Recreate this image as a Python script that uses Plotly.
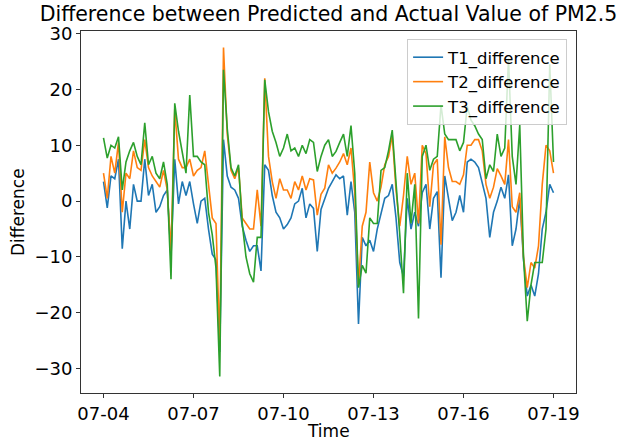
import pandas as pd
import plotly.graph_objects as go

# 3-hourly samples, starting 07-04 00:00
start = "2023-07-04 00:00"
step = "3h"

t1_difference = [
    3.5, -1.2, 4.5, 4, 7.5, -8.5, 0, -5, 3, 0, 0, 7.5, 1, 3, -2, -1, 1, 2,
    -10, 7.5, -0.5, 3.5, 1, 3.5, -0.5, -4, 0, 0.5, -5, -9.5, -10.5, -27, 11, 4.5, 2.5, 2,
    0.5, -4.5, -7, -9, -8, -8, -12.5, 6.5, 5.5, 1, -2, -3, -5, -4.2, -3, -0.5, 0, 2.3, -3,
    -0.5, -1.3, -9, -1.5, 0.5, 2.3, 3.5, 4.7, 4, 4.5, -2.5, 3.5, -2,
    -22,
    -6.5, -8, -7, -9, -5, -2, 0.5, 1, 3, -3, -11, -13.5, 0.5, -5, -2,
    -4.5,
    1.5, 3, -5, 0.5, 1.7,
    -13.7, 4.5, 0.5, -3.5, -2, 1, -2, 7, 7.5, 7, 6, 3.5, 0.5, -6.5, -2, 0, 2.5, 0.5,
    4.7, -8, -5, 0.5, -10.5, -17, -15, -17, -13, -5, -2, 3, 1.5,
]
t2_difference = [
    5, 0.5, 8, 5, 10.5, -2, 5, 4, 9, 6, 5.5, 11, 6, 4.5, 3.5, 2.5, 5.5, 2,
    -9, 16.5, 7.5, 6, 6, 7.5, 4.5, 5.5, 6, 9, 3, -3, -4, -26, 27.5, 12, 5.5, 4,
    6, -3, -4, -5, -5, 2, -4.5, 22, 8, 3.5, 0.5, 4, 2, 2, 0.5, 3.5, 2, 4.5, 2,
    4, 3.8, -2.5, 1.2, 2.3, 6.5, 5, 5.9, 7, 8.5, 6.5, 9.5, 1.5,
    -15,
    -4.5, -2, 7, 1.5, 0, 2.5, 6.5, 8, 11.8, 2, -4.5, 1, 8, 3, 5,
    -4,
    10, 8.5, -1, 6.5, 7.5,
    -7.8, 11.5, 6, 3.5, 3.5, 3, 4.7, 10, 10, 11, 11, 9, 3, 0.5, 2.5, 5.8, 4.5, 3,
    11, -1, -2, 1.5, -10, -15.5, -11, -12, -8, 3, 10, 9, 5,
]
t3_difference = [
    11.3, 7.7, 10, 9.5, 11.5, 2, 7, 9, 10.5, 8, 6.5, 14, 6.5, 8, 5, 4, 7, 3,
    -14, 17.5, 12.5, 9, 5, 19, 8, 8, 7, 6.5, -2, -6, -12, -31.4, 23.5, 13, 6, 4.5,
    6.5, -4, -10, -13, -14.5, -6.5, -6.5, 21.7, 16, 12.5, 10.5, 8, 9.5, 12, 9, 9.5, 8, 10, 8.5,
    11, 10.5, 5.3, 8, 10, 11, 8, 8.9, 10.5, 12, 8, 13.5, 5,
    -15.5,
    -11.5, -12.9, -3, -4, -4, 5.5, 6, 9, 12.7, 4, -6, -16.5, 5, -4, 3,
    -21,
    8, 10, 5.5, 7.5, 8,
    17.2, 12, 11, 11, 11, 9, 10.5, 17, 14.5, 13.5, 12, 11, 4, 6.5, 5.3, 12, 8, 9.5,
    25.5, 8, 3, 13.6, -10, -21.5, -15, -11, -11, -11, -5, 24.5, 7,
]
tick_dates = ["2023-07-04", "2023-07-07", "2023-07-10", "2023-07-13", "2023-07-16", "2023-07-19"]
tick_labels = ["07-04", "07-07", "07-10", "07-13", "07-16", "07-19"]

_FONT = "DejaVu Sans, sans-serif"
_C = {"t1": "#1f77b4", "t2": "#ff7f0e", "t3": "#2ca02c", "axis": "#333333"}

times = pd.date_range(start, periods=len(t1_difference), freq=step)

fig = go.Figure()
for name, vals, color in [
    ("T1_difference", t1_difference, _C["t1"]),
    ("T2_difference", t2_difference, _C["t2"]),
    ("T3_difference", t3_difference, _C["t3"]),
]:
    fig.add_trace(go.Scatter(x=times, y=vals, mode="lines", name=name,
                             line=dict(color=color, width=1.6)))

# matplotlib-like 5% margins
span = times[-1] - times[0]
x_range = [times[0] - span * 0.05, times[-1] + span * 0.05]
all_vals = t1_difference + t2_difference + t3_difference
lo, hi = min(all_vals), max(all_vals)
pad = (hi - lo) * 0.05
y_range = [lo - pad, hi + pad]

axis_common = dict(
    showline=True, mirror=True, linecolor=_C["axis"], linewidth=1,
    ticks="outside", ticklen=4, tickcolor=_C["axis"], showgrid=False, zeroline=False,
    tickfont=dict(size=18, color="black"),
)

fig.update_layout(
    width=635, height=445,
    paper_bgcolor="white", plot_bgcolor="white",
    font=dict(family=_FONT, color="black"),
    margin=dict(l=81, r=59, t=31, b=52),
    title=dict(text="Difference between Predicted and Actual Value of PM2.5",
               x=0.5, xref="paper", xanchor="center",
               y=1 - 14 / 445, yref="container", yanchor="middle",
               font=dict(size=20.5, color="black")),
    xaxis=dict(range=x_range, tickvals=tick_dates, ticktext=tick_labels, **axis_common),
    yaxis=dict(range=y_range, tickvals=[-30, -20, -10, 0, 10, 20, 30], **axis_common),
    legend=dict(x=0.982, y=0.978, xanchor="right", yanchor="top",
                bgcolor="rgba(255,255,255,0.8)", bordercolor="#cccccc", borderwidth=1,
                font=dict(size=16.5, color="black")),
)

# axis titles placed like matplotlib's
fig.add_annotation(text="Time", xref="paper", yref="paper", x=0.5, y=-38 / 362,
                   xanchor="center", yanchor="middle", showarrow=False,
                   font=dict(size=17, color="black"))
fig.add_annotation(text="Difference", xref="paper", yref="paper", x=-63 / 495, y=0.5,
                   xanchor="center", yanchor="middle", textangle=-90, showarrow=False,
                   font=dict(size=17, color="black"))

# drop the browser's default body margin so the figure sits at the page corner
fig.write_html("out.html", config={"displayModeBar": False},
               post_script="document.body.style.margin='0px';")
